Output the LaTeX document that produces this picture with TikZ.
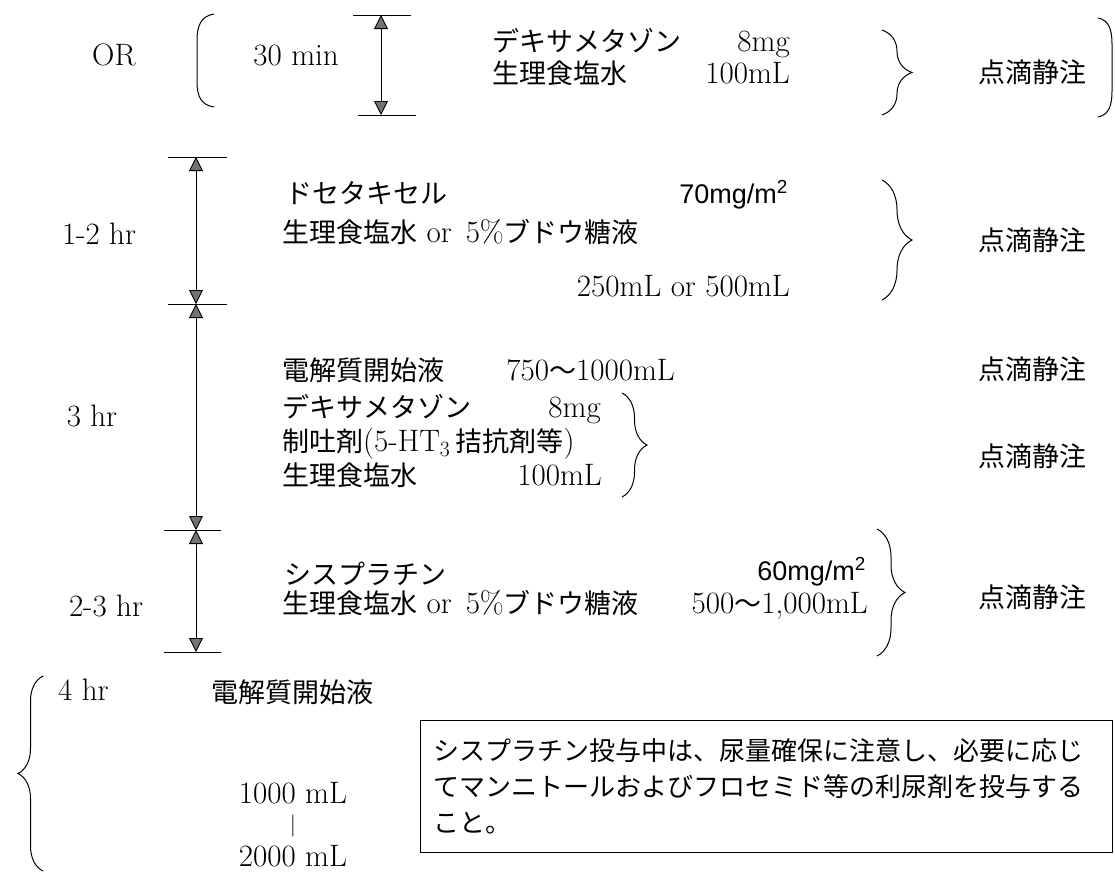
\documentclass[tikz,border=0pt]{standalone}
\usepackage{fontspec}
\newfontfamily\jpf{Noto Sans CJK JP}
\newfontfamily\sansf{Liberation Sans}
\usetikzlibrary{arrows.meta,decorations.pathreplacing}
\newcommand\J[1]{{\jpf\fontsize{27}{32}\selectfont #1}}
\newcommand\SF[1]{{\sansf\fontsize{27}{32}\selectfont #1}}
\begin{document}
\begin{tikzpicture}[x=1pt,y=-1pt,
  txt/.style={anchor=base west,inner sep=0pt,font=\fontsize{31}{36}\selectfont},
  txtr/.style={txt,anchor=base east},
  txtc/.style={txt,anchor=base},
  tick/.style={line width=1pt},
  dur/.style={line width=0.9pt,
    {Triangle[width=14pt,length=14pt,fill=black!55]}-{Triangle[width=14pt,length=14pt,fill=black!55]}},
  brc/.style={decorate,decoration={brace,amplitude=#1},line width=1pt},
  paren/.style={line width=1pt},
  notebox/.style={draw,line width=1pt,anchor=north west,inner xsep=13pt,inner ysep=0pt,
    minimum width=692pt,minimum height=132pt,text width=666pt,align=left,
    font=\jpf\fontsize{26}{36}\selectfont}]
\useasboundingbox (0,0) rectangle (1115,871);

% ---------- row 1 ----------
\node[txt] (or) at (92,65) {OR};
\draw[paren] (214,14) .. controls (201,16) and (197,26) .. (197,40) -- (197,82) .. controls (197,96) and (201,105) .. (214,107);
\node[txtr] (m30) at (339,65) {30 min};
\coordinate (t1) at (381,15); \coordinate (t1l) at (353,15); \coordinate (t1r) at (411,15);
\coordinate (b1) at (381,115); \coordinate (b1l) at (358,115); \coordinate (b1r) at (416,115);
\draw[tick] (t1l) -- (t1r);
\draw[tick] (b1l) -- (b1r);
\draw[dur] (t1) -- (b1);
\node[txt] (dex1) at (492,51) {\J{デキサメタゾン}};
\node[txtr] (dex1d) at (790,51) {8mg};
\node[txt] (sal1) at (492,83) {\J{生理食塩水}};
\node[txtr] (sal1d) at (790,83) {100mL};
\draw[brc=30pt] (882,30) -- (882,115);
\node[txt] (iv1) at (978,82) {\J{点滴静注}};
\draw[paren] (1098,18) .. controls (1109,20) and (1112,30) .. (1112,44) -- (1112,91) .. controls (1112,105) and (1109,115) .. (1098,117);

% ---------- time axis ----------
\coordinate (s0) at (196,157); \coordinate (s0l) at (168,157); \coordinate (s0r) at (227,157);
\coordinate (s1) at (196,304); \coordinate (s1l) at (168,304); \coordinate (s1r) at (227,304);
\coordinate (s2) at (196,530); \coordinate (s2l) at (164,530); \coordinate (s2r) at (221,530);
\coordinate (s3) at (196,652); \coordinate (s3l) at (164,652); \coordinate (s3r) at (221,652);
\draw[tick] (s0l) -- (s0r);
\draw[tick] (s1l) -- (s1r);
\draw[tick] (s2l) -- (s2r);
\draw[tick] (s3l) -- (s3r);
\draw[dur] (s0) -- (s1);
\draw[dur] (s1) -- (s2);
\draw[dur] (s2) -- (s3);

% ---------- row 2 ----------
\node[txtc] (h12) at (99,244) {1-2 hr};
\node[txt] (doc) at (285,203) {\J{ドセタキセル}};
\node[txtr] (docd) at (788,203) {\SF{70mg/m\textsuperscript{2}}};
\node[txt] (sol2) at (282,242) {\J{生理食塩水} or\hspace{14pt}5\%\J{ブドウ糖液}};
\node[txtr] (vol2) at (790,296) {250mL or 500mL};
\draw[brc=30pt] (882,180) -- (882,300);
\node[txt] (iv2) at (978,250) {\J{点滴静注}};

% ---------- row 3 ----------
\node[txtc] (h3) at (92,426) {3 hr};
\node[txt] (ele3) at (282,380) {\J{電解質開始液}};
\node[txtr] (ele3v) at (675,380) {750\J{〜}1000mL};
\node[txt] (iv3) at (978,379) {\J{点滴静注}};
\node[txt] (dex3) at (282,417) {\J{デキサメタゾン}};
\node[txtr] (dex3d) at (601,417) {8mg};
\node[txt] (anti3) at (282,451) {\J{制吐剤}(5-HT\textsubscript{3}\,\J{拮抗剤等})};
\node[txt] (sal3) at (282,485) {\J{生理食塩水}};
\node[txtr] (sal3d) at (602,485) {100mL};
\draw[brc=25pt] (622,393) -- (622,497);
\node[txt] (iv4) at (978,466) {\J{点滴静注}};

% ---------- row 4 ----------
\node[txtc] (h23) at (106,616) {2-3 hr};
\node[txt] (cis) at (284,584) {\J{シスプラチン}};
\node[txtr] (cisd) at (866,580) {\SF{60mg/m\textsuperscript{2}}};
\node[txt] (sol4) at (282,613) {\J{生理食塩水} or\hspace{14pt}5\%\J{ブドウ糖液}};
\node[txtr] (vol4) at (868,613) {500\J{〜}1,000mL};
\draw[brc=28pt] (877,529) -- (877,656);
\node[txt] (iv5) at (978,607) {\J{点滴静注}};

% ---------- row 5 ----------
\draw[brc=25pt] (43,871) -- (43,676);
\node[txt] (h4) at (58,700) {4 hr};
\node[txt] (ele5) at (211,702) {\J{電解質開始液}};
\node[txtc] (v1000) at (293,803) {1000 mL};
\node[txtc,font=\fontsize{22}{26}\selectfont] (bar) at (293,831) {\textbar};
\node[txtc] (v2000) at (293,866) {2000 mL};
\node[notebox] (note) at (420,720) {シスプラチン投与中は、尿量確保に注意し、必要に応じ\\てマンニトールおよびフロセミド等の利尿剤を投与する\\こと。};
\end{tikzpicture}
\end{document}
